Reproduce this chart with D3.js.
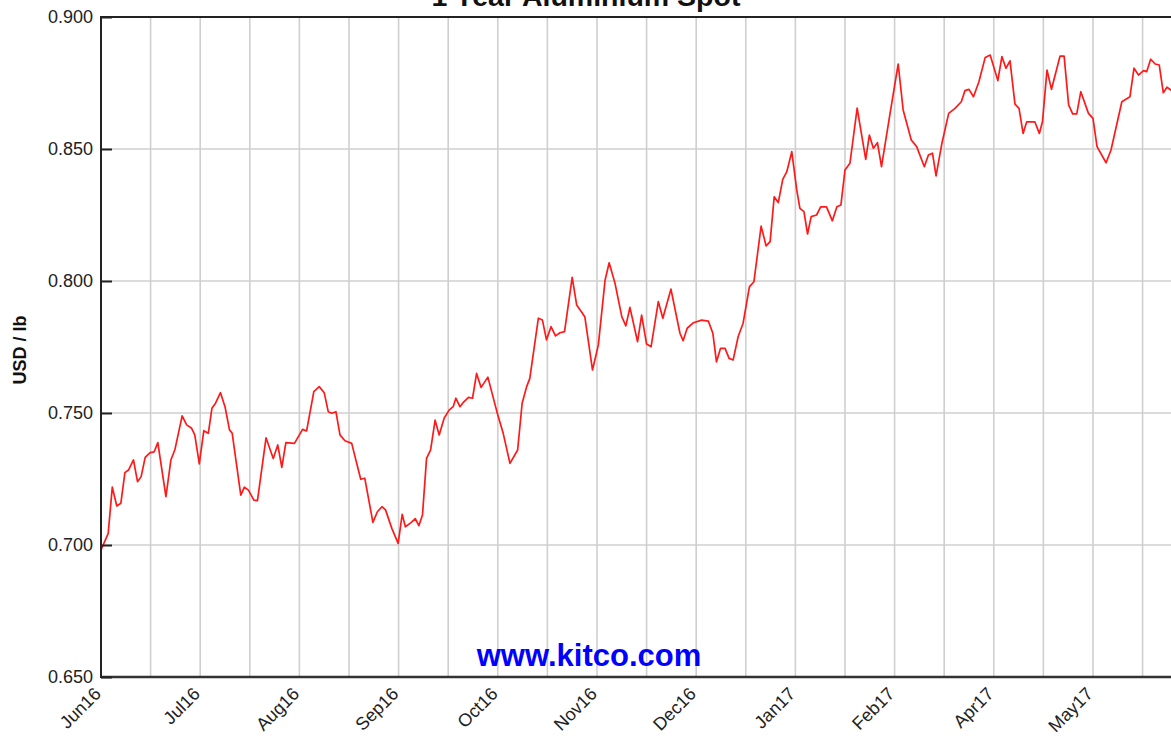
<!DOCTYPE html>
<html>
<head>
<meta charset="utf-8">
<script src="https://cdn.jsdelivr.net/npm/d3@7/dist/d3.min.js"></script>
<style>
	body { margin: 0; background: #fff; }
	svg { display: block; font-family: "Liberation Sans", Arial, sans-serif; }
</style>
</head>
<body>
<script>
(function(){
	// Trading day offset from the first point
	let days = [
		0.0, 1.6, 2.5, 3.5, 4.4, 5.3, 6.1, 7.2, 8.1, 8.9, 9.8, 10.9, 11.8, 12.6, 14.4, 15.5, 16.4, 18.0, 19.0, 20.1,
		20.8, 21.8, 22.8, 23.8, 24.6, 25.4, 26.5, 27.5, 28.5, 29.1, 31.0, 31.8, 32.7, 33.9, 34.7, 36.6, 38.2, 39.2, 40.1, 41.0,
		42.9, 44.7, 45.6, 47.2, 48.4, 49.5, 50.4, 51.2, 52.1, 53.0, 54.1, 55.6, 57.6, 58.5, 60.3, 61.3, 62.3, 63.1, 64.5, 65.9,
		66.8, 67.5, 68.7, 69.7, 70.5, 71.3, 72.2, 73.1, 74.1, 75.0, 76.1, 77.2, 78.1, 78.7, 79.6, 80.3, 81.5, 82.4, 83.3, 84.3,
		85.8, 88.0, 89.2, 90.7, 92.4, 93.4, 94.4, 95.1, 97.0, 97.9, 98.8, 99.8, 100.8, 101.8, 102.8, 104.5, 105.5, 107.3, 109.0, 110.3,
		111.8, 112.7, 114.0, 115.5, 116.4, 117.3, 119.0, 119.9, 121.0, 122.0, 123.6, 124.6, 126.4, 128.4, 129.1, 130.0, 131.4, 133.2, 134.7, 135.7,
		136.5, 137.4, 138.4, 139.3, 140.2, 141.3, 142.4, 143.8, 144.8, 146.4, 147.5, 148.4, 149.3, 150.2, 151.2, 152.1, 153.2, 154.3, 155.0, 155.9,
		156.7, 157.5, 158.7, 159.6, 160.9, 162.2, 163.2, 164.1, 165.0, 166.1, 167.7, 169.6, 170.4, 171.3, 172.2, 173.1, 175.0, 176.8, 177.9, 179.7,
		180.9, 182.6, 183.5, 184.4, 185.2, 186.5, 188.0, 189.4, 190.8, 191.6, 192.5, 193.5, 194.7, 196.1, 197.2, 198.9, 199.8, 200.7, 201.6, 202.7,
		203.6, 204.5, 205.3, 207.1, 208.1, 208.8, 209.8, 210.8, 212.7, 213.6, 214.6, 215.5, 216.4, 217.3, 219.0, 220.0, 220.9, 222.9, 224.0, 226.4,
		228.2, 229.1, 230.1, 231.2, 231.9, 232.8, 233.8, 234.7, 235.6, 236.4, 237.3, 238.2
	];
	// USD / lb
	let prices = [
		0.6981, 0.7044, 0.7219, 0.7148, 0.7158, 0.7274, 0.7284, 0.7322, 0.7240, 0.7259, 0.7332, 0.7350, 0.7353, 0.7388, 0.7183, 0.7322, 0.7362, 0.7489, 0.7455, 0.7442,
		0.7417, 0.7307, 0.7433, 0.7423, 0.7518, 0.7537, 0.7577, 0.7524, 0.7436, 0.7423, 0.7189, 0.7219, 0.7208, 0.7170, 0.7168, 0.7406, 0.7328, 0.7379, 0.7294, 0.7388,
		0.7385, 0.7438, 0.7432, 0.7581, 0.7600, 0.7577, 0.7505, 0.7499, 0.7505, 0.7417, 0.7395, 0.7385, 0.7249, 0.7253, 0.7086, 0.7126, 0.7145, 0.7133, 0.7063, 0.7006,
		0.7116, 0.7069, 0.7084, 0.7100, 0.7073, 0.7114, 0.7328, 0.7360, 0.7473, 0.7417, 0.7480, 0.7511, 0.7524, 0.7556, 0.7524, 0.7539, 0.7559, 0.7556, 0.7650, 0.7597,
		0.7636, 0.7492, 0.7423, 0.7309, 0.7360, 0.7537, 0.7600, 0.7631, 0.7859, 0.7852, 0.7777, 0.7827, 0.7792, 0.7804, 0.7808, 0.8014, 0.7909, 0.7865, 0.7663, 0.7758,
		0.8004, 0.8069, 0.7991, 0.7865, 0.7830, 0.7900, 0.7770, 0.7871, 0.7761, 0.7751, 0.7922, 0.7859, 0.7969, 0.7802, 0.7774, 0.7821, 0.7842, 0.7852, 0.7848, 0.7802,
		0.7694, 0.7745, 0.7745, 0.7707, 0.7701, 0.7789, 0.7840, 0.7978, 0.7997, 0.8208, 0.8133, 0.8149, 0.8319, 0.8297, 0.8385, 0.8414, 0.8490, 0.8345, 0.8275, 0.8263,
		0.8178, 0.8244, 0.8250, 0.8281, 0.8281, 0.8228, 0.8281, 0.8288, 0.8420, 0.8446, 0.8655, 0.8461, 0.8553, 0.8503, 0.8524, 0.8433, 0.8635, 0.8822, 0.8648, 0.8534,
		0.8509, 0.8433, 0.8477, 0.8484, 0.8398, 0.8522, 0.8635, 0.8654, 0.8679, 0.8721, 0.8726, 0.8698, 0.8755, 0.8847, 0.8856, 0.8759, 0.8850, 0.8806, 0.8834, 0.8670,
		0.8654, 0.8559, 0.8603, 0.8603, 0.8559, 0.8603, 0.8799, 0.8726, 0.8852, 0.8852, 0.8667, 0.8633, 0.8633, 0.8717, 0.8635, 0.8616, 0.8509, 0.8448, 0.8496, 0.8679,
		0.8698, 0.8806, 0.8780, 0.8797, 0.8793, 0.8840, 0.8822, 0.8818, 0.8713, 0.8734, 0.8723, 0.8720
	];
	let monthLabels = ['Jun16', 'Jul16', 'Aug16', 'Sep16', 'Oct16', 'Nov16', 'Dec16', 'Jan17', 'Feb17', 'Apr17', 'May17'];
	let yTicks = [0.650, 0.700, 0.750, 0.800, 0.850, 0.900];
	let gridStep = 11; // trading days between vertical gridlines, labels on every second

	let width = 1171,
		height = 743,
		margin = {top: 17, left: 101, bottom: 66};

	let x = d3.scaleLinear()
		.domain([0, 242])
		.range([margin.left, margin.left + 242 * 4.509]);
	let y = d3.scaleLinear()
		.domain([0.65, 0.9])
		.range([height - margin.bottom, margin.top]);

	let svg = d3.select('body').append('svg')
		.attr('width', width)
		.attr('height', height);

	// Title, partly above the frame (as in the source image)
	svg.append('text')
		.attr('x', 586)
		.attr('y', 6)
		.attr('text-anchor', 'middle')
		.attr('font-size', 28.5)
		.attr('font-weight', 'bold')
		.attr('fill', '#111')
		.text('1 Year Aluminium Spot');

	// Vertical gridlines
	let gridDays = d3.range(gridStep, 242, gridStep);
	svg.append('g')
		.selectAll('line')
		.data(gridDays).enter()
			.append('line')
			.attr('x1', d => x(d))
			.attr('x2', d => x(d))
			.attr('y1', y(0.9))
			.attr('y2', y(0.65))
			.attr('stroke', '#cfcfcf')
			.attr('stroke-width', 1.6);

	// Horizontal gridlines
	svg.append('g')
		.selectAll('line')
		.data(yTicks.slice(1, -1)).enter()
			.append('line')
			.attr('x1', x(0))
			.attr('x2', width)
			.attr('y1', d => y(d))
			.attr('y2', d => y(d))
			.attr('stroke', '#cfcfcf')
			.attr('stroke-width', 1.6);

	// Watermark
	svg.append('text')
		.attr('x', 589)
		.attr('y', 666)
		.attr('text-anchor', 'middle')
		.attr('font-size', 31)
		.attr('font-weight', 'bold')
		.attr('fill', '#0000ff')
		.text('www.kitco.com');

	// Price line
	let line = d3.line()
		.x((d, i) => x(days[i]))
		.y(d => y(d));
	svg.append('path')
		.datum(prices)
		.attr('fill', 'none')
		.attr('stroke', '#ff1a1a')
		.attr('stroke-width', 1.7)
		.attr('stroke-linejoin', 'round')
		.attr('d', line);

	// Frame: top, left, bottom
	svg.append('line')
		.attr('x1', x(0)).attr('x2', width)
		.attr('y1', y(0.9)).attr('y2', y(0.9))
		.attr('stroke', '#222').attr('stroke-width', 2);
	svg.append('line')
		.attr('x1', x(0)).attr('x2', width)
		.attr('y1', y(0.65)).attr('y2', y(0.65))
		.attr('stroke', '#333').attr('stroke-width', 2.5);
	svg.append('line')
		.attr('x1', x(0)).attr('x2', x(0))
		.attr('y1', y(0.9) - 1).attr('y2', y(0.65) + 1)
		.attr('stroke', '#222').attr('stroke-width', 2);

	// Y axis with inner ticks
	let yAxis = d3.axisLeft(y)
		.tickValues(yTicks)
		.tickSizeInner(-11)
		.tickSizeOuter(0)
		.tickFormat(d3.format('.3f'));
	let yg = svg.append('g')
		.attr('transform', 'translate(' + x(0) + ',0)')
		.call(yAxis);
	yg.select('.domain').remove();
	yg.selectAll('.tick line').attr('stroke', '#222').attr('stroke-width', 2);
	yg.selectAll('.tick text')
		.attr('x', -8)
		.attr('font-size', 18)
		.attr('fill', '#222')
		.attr('font-family', '"Liberation Sans", Arial, sans-serif');

	// Month labels, rotated
	let labelDays = monthLabels.map((m, i) => i * gridStep * 2);
	svg.append('g')
		.selectAll('text')
		.data(monthLabels).enter()
			.append('text')
			.attr('transform', (d, i) => 'translate(' + (x(labelDays[i]) + 1) + ',' + 695 + ') rotate(-45)')
			.attr('text-anchor', 'end')
			.attr('font-size', 18)
			.attr('fill', '#222')
			.text(d => d);

	// Y axis title
	svg.append('text')
		.attr('transform', 'translate(26,' + 350 + ') rotate(-90)')
		.attr('text-anchor', 'middle')
		.attr('font-size', 18)
		.attr('font-weight', 'bold')
		.attr('fill', '#111')
		.text('USD / lb');
})();
</script>
</body>
</html>
